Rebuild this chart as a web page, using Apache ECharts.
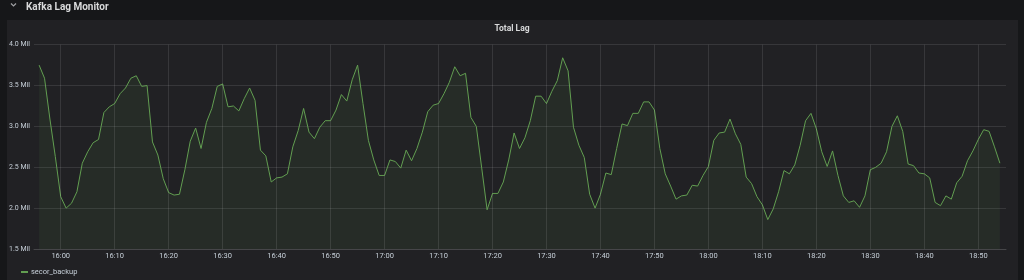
<!DOCTYPE html>
<html>
<head>
<meta charset="utf-8">
<script src="https://cdn.jsdelivr.net/npm/echarts@6/dist/echarts.min.js"></script>
<style>
  html, body { margin: 0; padding: 0; background: #161719; }
  #chart { width: 1024px; height: 280px; }
</style>
</head>
<body>
<div id="chart"></div>
<script>
const day = '2024-01-01 ';
const times = [
  '15:56','15:57','15:58','15:59',
  '16:00','16:01','16:02','16:03','16:04','16:05','16:06','16:07','16:08','16:09',
  '16:10','16:11','16:12','16:13','16:14','16:15','16:16','16:17','16:18','16:19',
  '16:20','16:21','16:22','16:23','16:24','16:25','16:26','16:27','16:28','16:29',
  '16:30','16:31','16:32','16:33','16:34','16:35','16:36','16:37','16:38','16:39',
  '16:40','16:41','16:42','16:43','16:44','16:45','16:46','16:47','16:48','16:49',
  '16:50','16:51','16:52','16:53','16:54','16:55','16:56','16:57','16:58','16:59',
  '17:00','17:01','17:02','17:03','17:04','17:05','17:06','17:07','17:08','17:09',
  '17:10','17:11','17:12','17:13','17:14','17:15','17:16','17:17','17:18','17:19',
  '17:20','17:21','17:22','17:23','17:24','17:25','17:26','17:27','17:28','17:29',
  '17:30','17:31','17:32','17:33','17:34','17:35','17:36','17:37','17:38','17:39',
  '17:40','17:41','17:42','17:43','17:44','17:45','17:46','17:47','17:48','17:49',
  '17:50','17:51','17:52','17:53','17:54','17:55','17:56','17:57','17:58','17:59',
  '18:00','18:01','18:02','18:03','18:04','18:05','18:06','18:07','18:08','18:09',
  '18:10','18:11','18:12','18:13','18:14','18:15','18:16','18:17','18:18','18:19',
  '18:20','18:21','18:22','18:23','18:24','18:25','18:26','18:27','18:28','18:29',
  '18:30','18:31','18:32','18:33','18:34','18:35','18:36','18:37','18:38','18:39',
  '18:40','18:41','18:42','18:43','18:44','18:45','18:46','18:47','18:48','18:49',
  '18:50','18:51','18:52','18:53','18:54'
];
// secor_backup lag, in millions
const secorBackup = [
  3.75, 3.59, 3.09, 2.63,
  2.14, 2.00, 2.06, 2.20, 2.55, 2.69, 2.80, 2.84, 3.17, 3.24,
  3.28, 3.40, 3.47, 3.59, 3.62, 3.49, 3.50, 2.81, 2.65, 2.36,
  2.19, 2.16, 2.17, 2.47, 2.82, 2.98, 2.73, 3.05, 3.22, 3.49,
  3.52, 3.24, 3.25, 3.19, 3.34, 3.47, 3.32, 2.71, 2.64, 2.32,
  2.37, 2.38, 2.42, 2.75, 2.95, 3.22, 2.93, 2.85, 2.99, 3.07,
  3.07, 3.20, 3.39, 3.31, 3.57, 3.75, 3.28, 2.83, 2.59, 2.40,
  2.40, 2.59, 2.57, 2.49, 2.71, 2.58, 2.73, 2.93, 3.18, 3.26,
  3.28, 3.40, 3.54, 3.73, 3.62, 3.65, 3.11, 3.00, 2.49, 1.98,
  2.18, 2.18, 2.32, 2.59, 2.92, 2.73, 2.86, 3.07, 3.37, 3.37,
  3.28, 3.43, 3.56, 3.84, 3.68, 2.99, 2.77, 2.62, 2.17, 2.00,
  2.17, 2.43, 2.41, 2.73, 3.03, 3.01, 3.16, 3.16, 3.30, 3.30,
  3.20, 2.73, 2.42, 2.27, 2.11, 2.15, 2.16, 2.28, 2.27, 2.40,
  2.51, 2.83, 2.92, 2.93, 3.09, 2.91, 2.78, 2.38, 2.30, 2.14,
  2.04, 1.86, 1.99, 2.20, 2.46, 2.42, 2.53, 2.77, 3.07, 3.16,
  2.97, 2.69, 2.51, 2.70, 2.40, 2.15, 2.07, 2.09, 2.01, 2.15,
  2.47, 2.50, 2.55, 2.69, 3.00, 3.13, 2.94, 2.54, 2.52, 2.43,
  2.42, 2.37, 2.07, 2.03, 2.15, 2.11, 2.31, 2.39, 2.58, 2.70,
  2.84, 2.96, 2.94, 2.75, 2.55
];
// x tick labels (every 10 minutes)
const xTicks = ['16:00','16:10','16:20','16:30','16:40','16:50','17:00','17:10','17:20',
  '17:30','17:40','17:50','18:00','18:10','18:20','18:30','18:40','18:50'];
const yMin = 1.5, yMax = 4.0, yStep = 0.5;
const xMin = '15:55:03', xMax = '18:55:08';

const chart = echarts.init(document.getElementById('chart'), null, { renderer: 'canvas' });
const data = times.map((t, i) => [day + t, secorBackup[i]]);
const font = 'Roboto, "Noto Sans", sans-serif';
const gridColor = 'rgba(255,255,255,0.1)';
const labelColor = '#c7d0d9';

chart.setOption({
  backgroundColor: '#161719',
  animation: false,
  graphic: [
    { type: 'rect', shape: { x: 7, y: 20, width: 1011, height: 262 }, style: { fill: '#212124' }, z: -10, silent: true },
    { type: 'polyline', shape: { points: [[11, 3.5], [13.5, 6], [16, 3.5]] }, style: { stroke: '#9fa0a3', lineWidth: 1.2, fill: null } }
  ],
  title: [
    { text: 'Kafka Lag Monitor', left: 21, top: -3, textStyle: { color: '#d8d9da', fontSize: 10, fontWeight: 'bold', fontFamily: font } },
    { text: 'Total Lag', left: 'center', top: 19, textStyle: { color: '#d8d9da', fontSize: 8.5, fontWeight: 'bold', fontFamily: font } }
  ],
  legend: {
    left: 16, top: 263,
    icon: 'rect', itemWidth: 7, itemHeight: 2, itemGap: 10,
    textStyle: { color: labelColor, fontSize: 7.5, fontFamily: font, padding: [0, 0, 0, -2] },
    data: ['secor_backup']
  },
  grid: { left: 34, right: 18, top: 44.7, bottom: 31, containLabel: false },
  xAxis: {
    type: 'time',
    min: day + xMin, max: day + xMax,
    axisLine: { show: true, lineStyle: { color: '#464649', width: 1 } },
    axisTick: { show: false },
    splitLine: { show: false },
    axisLabel: { show: false }
  },
  yAxis: {
    type: 'value', min: yMin, max: yMax, interval: yStep,
    axisLine: { show: false }, axisTick: { show: false },
    splitLine: { show: true, lineStyle: { color: gridColor, width: 1 } },
    axisLabel: {
      color: labelColor, fontSize: 7, fontFamily: font, margin: 4,
      formatter: v => v.toFixed(1) + ' Mil'
    }
  },
  series: [{
    name: 'secor_backup',
    type: 'line',
    data: data,
    showSymbol: false,
    symbol: 'none',
    lineStyle: { color: '#629e51', width: 1 },
    itemStyle: { color: '#629e51' },
    areaStyle: { color: 'rgba(98,158,81,0.12)', origin: 'start' },
    markLine: {
      silent: true,
      symbol: ['none', 'none'],
      lineStyle: { color: gridColor, width: 1, type: 'solid' },
      label: {
        show: true, position: 'start', distance: 3,
        color: labelColor, fontSize: 7.5, fontFamily: font,
        formatter: p => p.name
      },
      emphasis: { disabled: true },
      animation: false,
      data: xTicks.map(t => ({ name: t, xAxis: day + t }))
    }
  }]
});
</script>
</body>
</html>
